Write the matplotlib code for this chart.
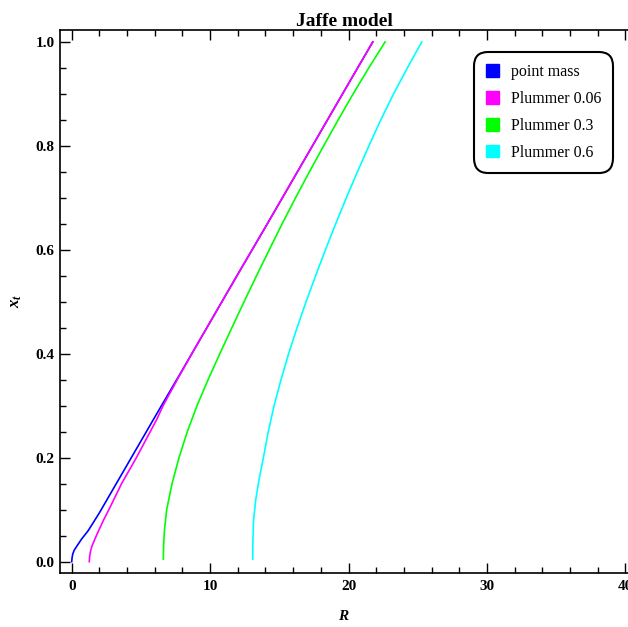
import matplotlib
matplotlib.use("Agg")
import matplotlib.pyplot as plt
from matplotlib.patches import Patch
from matplotlib.ticker import MultipleLocator, FormatStrFormatter

plt.rcParams['font.family'] = ['Liberation Serif', 'DejaVu Serif']
plt.rcParams['mathtext.fontset'] = 'custom'
plt.rcParams['mathtext.it'] = 'Liberation Serif:bold:italic'
plt.rcParams['mathtext.rm'] = 'Liberation Serif:bold'

# values
pm_R = [0, 0.03, 0.08, 0.18, 0.35, 0.7, 1.2, 2, 4, 6, 8, 10, 12, 14, 16, 18, 20, 21.75]
pm_x = [0, 0.008, 0.015, 0.022, 0.029, 0.043, 0.06, 0.094, 0.186, 0.278, 0.369, 0.461,
        0.553, 0.644, 0.736, 0.828, 0.920, 1.0]

p006_R = [1.27, 1.3, 1.36, 1.45, 1.7, 1.95, 2.3, 2.72, 3.6, 4.67, 5.35, 6.13, 6.6, 7.62,
          8.7, 10, 12, 14, 16, 18, 20, 21.75]
p006_x = [0, 0.01, 0.02, 0.029, 0.045, 0.06, 0.08, 0.102, 0.15, 0.2, 0.234, 0.273, 0.3, 0.35,
          0.401, 0.461, 0.553, 0.644, 0.736, 0.828, 0.920, 1.0]

p03_R = [6.62, 6.64, 6.7, 6.86, 7.25, 7.75, 8.35, 9.05, 9.85, 10.7, 11.57, 12.45, 13.35,
         14.27, 15.2, 16.17, 17.17, 18.2, 19.25, 20.33, 21.46, 22.64]
p03_x = [0.005, 0.03, 0.06, 0.1, 0.15, 0.2, 0.25, 0.3, 0.35, 0.4, 0.45, 0.5, 0.55,
         0.6, 0.65, 0.7, 0.75, 0.8, 0.85, 0.9, 0.95, 1.0]

p06_R = [13.08, 13.09, 13.14, 13.3, 13.55, 13.85, 14.2, 14.62, 15.12, 15.67, 16.28, 16.93,
         17.62, 18.33, 19.07, 19.84, 20.64, 21.47, 22.33, 23.25, 24.25, 25.29]
p06_x = [0.005, 0.04, 0.08, 0.12, 0.16, 0.2, 0.25, 0.3, 0.35, 0.4, 0.45, 0.5,
         0.55, 0.6, 0.65, 0.7, 0.75, 0.8, 0.85, 0.9, 0.95, 1.0]

labels = ['point mass', 'Plummer 0.06', 'Plummer 0.3', 'Plummer 0.6']
colors = ['#0000ff', '#ff00ff', '#00ff00', '#00ffff']

fig = plt.figure(figsize=(6.28, 6.27), dpi=100)
ax = fig.add_axes([60 / 628, 1 - 572.7 / 627, 1 - 60 / 628, (572.7 - 30) / 627])

series = [(pm_R, pm_x), (p006_R, p006_x), (p03_R, p03_x), (p06_R, p06_x)]
for (R, x), c in zip(series, colors):
    ax.plot(R, x, color=c, lw=1.2)

ax.set_xlim(-0.845, 40.19)
ax.set_ylim(-0.0212, 1.023)

ax.xaxis.set_major_locator(MultipleLocator(10))
ax.xaxis.set_minor_locator(MultipleLocator(2))
ax.yaxis.set_major_locator(MultipleLocator(0.2))
ax.yaxis.set_minor_locator(MultipleLocator(0.05))
ax.tick_params(which='both', direction='in', top=True, right=False, width=1.0)
ax.tick_params(which='major', length=7, labelsize=11)
ax.tick_params(axis='y', which='major', pad=4)
ax.tick_params(axis='x', which='major', pad=5)
ax.tick_params(which='minor', length=4)
for lab in ax.get_xticklabels() + ax.get_yticklabels():
    lab.set_fontweight('bold')
ax.yaxis.set_major_formatter(FormatStrFormatter('%.1f'))
ax.xaxis.set_major_formatter(FormatStrFormatter('%d'))

for s in ['left', 'bottom', 'top']:
    ax.spines[s].set_linewidth(1.2)
ax.spines['right'].set_visible(False)

ax.set_title('Jaffe model', fontsize=14, fontweight='bold', pad=3)
ax.set_xlabel('$R$', fontsize=11, labelpad=12)
ax.set_ylabel('$x_t$', fontsize=12)
ax.yaxis.set_label_coords((24 - 60) / 568, 0.5)

handles = [Patch(facecolor=c, edgecolor=c) for c in colors]
leg = ax.legend(handles, labels, loc='upper right',
                bbox_to_anchor=(613 / 628, 1 - 52 / 627), bbox_transform=fig.transFigure,
                borderaxespad=0, fancybox=True, framealpha=1, edgecolor='black',
                fontsize=11.5, handlelength=0.85, handleheight=0.85, handletextpad=0.7,
                labelspacing=0.68, borderpad=0.75)
leg.get_frame().set_linewidth(1.5)
leg.get_frame().set_boxstyle('round', pad=0.0, rounding_size=0.9)

fig.savefig('out.png', dpi=100)
